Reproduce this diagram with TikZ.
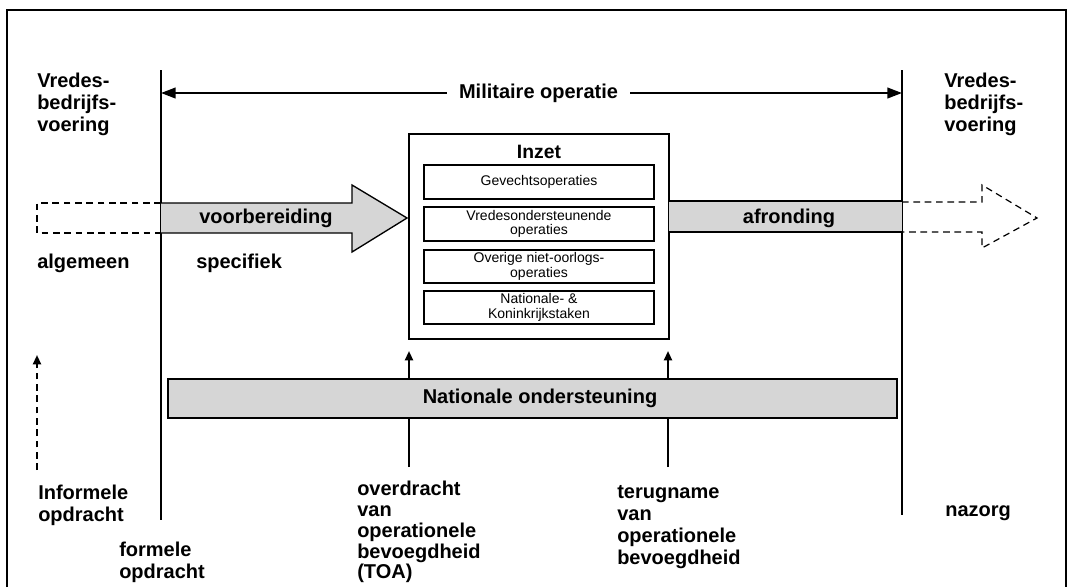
\documentclass[tikz,border=0pt]{standalone}
\usepackage{fontspec}
\setmainfont{Liberation Sans}
\usetikzlibrary{arrows.meta}
\begin{document}
\begin{tikzpicture}[x=0.75pt,y=-0.75pt,
  lab/.style={font=\bfseries\fontsize{15}{16.5}\selectfont,align=left,inner sep=0},
  small/.style={font=\fontsize{10.5}{11}\selectfont,align=center,inner sep=0},
  phase/.style={fill=black!16},
  dashedline/.style={line width=0.9pt,dash pattern=on 5pt off 3.5pt},
  bigarrow/.style={line width=1.5pt,-{Triangle[length=11pt,width=8pt]}},
  uparrow/.style={line width=1.5pt,-{Triangle[length=7pt,width=6pt]}},
  opbox/.style={draw,line width=0.9pt,minimum width=230*0.75pt}
]
\useasboundingbox (0,0) rectangle (1069,587);
% frame
\draw[line width=0.8pt] (7,587) -- (7,10) -- (1066,10) -- (1066,587);

% vertical phase lines
\coordinate (lt) at (161,70);
\coordinate (lb) at (161,520);
\coordinate (rt) at (902,70);
\coordinate (rb) at (902,515);
\draw[line width=2.2pt] (lt) -- (lb);
\draw[line width=2.2pt] (rt) -- (rb);

% Militaire operatie
\node[lab,inner xsep=9pt] (mil) at (538.5,93) {Militaire operatie};
\draw[bigarrow] (mil.west) -- (mil.west -| lt);
\draw[bigarrow] (mil.east) -- (mil.east -| rt);

% side labels
\node[lab,anchor=north west] (vbl) at (37,73) {Vredes-\\bedrijfs-\\voering};
\node[lab,anchor=north west] (vbr) at (944,73) {Vredes-\\bedrijfs-\\voering};
\node[lab,anchor=base west] (alg) at (37,268) {algemeen};
\node[lab,anchor=base west] (spec) at (196,268) {specifiek};

% voorbereiding arrow
\fill[phase] (161,203) -- (352,203) -- (352,185) -- (407,218) -- (352,252) -- (352,233) -- (161,233) -- cycle;
\draw[line width=1pt,line join=miter] (161,203) -- (352,203) -- (352,185) -- (407,218) -- (352,252) -- (352,233) -- (161,233);
\draw[dashedline] (161,203) -- (37,203) -- (37,233) -- (161,233);
\node[lab] (voor) at (266,218) {voorbereiding};

% Inzet box
\node[draw,line width=1.5pt,minimum width=260*0.75pt,minimum height=205*0.75pt,inner sep=0] (inzet) at (539,236.5) {};
\node[lab,font=\bfseries\fontsize{14.5}{15}\selectfont] (inzett) at (539,152) {Inzet};
\node[opbox,minimum height=34*0.75pt] (b1) at (539,182) {};
\node[small] at (b1) {Gevechtsoperaties};
\node[opbox,minimum height=34*0.75pt] (b2) at (539,224) {};
\node[small] at (b2) {Vredesondersteunende\\operaties};
\node[opbox,minimum height=33*0.75pt] (b3) at (539,266.5) {};
\node[small] at (b3) {Overige niet-oorlogs-\\operaties};
\node[opbox,minimum height=33*0.75pt] (b4) at (539,307.5) {};
\node[small] at (b4) {Nationale- \&\\Koninkrijkstaken};

% afronding band
\fill[phase] (669,201) rectangle (902,232);
\draw[line width=1pt] (669,201) -- (902,201);
\draw[line width=1pt] (669,232) -- (902,232);
\draw[dashedline] (902,202) -- (982,202) -- (982,185) -- (1037,218) -- (982,248) -- (982,232) -- (902,232);
\node[lab] (afr) at (789,218) {afronding};

% up arrows
\coordinate (toa) at (409,467);
\coordinate (ter) at (668,467);
\draw[uparrow] (toa) -- (409,351);
\draw[uparrow] (ter) -- (668,351);
\coordinate (inf) at (37,470);
\draw[uparrow,dash pattern=on 5pt off 3.5pt] (inf) -- (37,355);

% Nationale ondersteuning
\node[draw,phase,line width=2pt,minimum width=729*0.75pt,minimum height=39*0.75pt,inner sep=0] (nat) at (532.5,398.5) {};
\node[lab] (natt) at (540,398.5) {Nationale ondersteuning};

% bottom labels
\node[lab,anchor=north west] (infl) at (38,485) {Informele\\opdracht};
\node[lab,anchor=north west] (form) at (119,542) {formele\\opdracht};
\node[lab,anchor=north west,font=\bfseries\fontsize{15}{15.6}\selectfont] (over) at (357,481) {overdracht\\van\\operationele\\bevoegdheid\\(TOA)};
\node[lab,anchor=north west] (terug) at (617,485) {terugname\\van\\operationele\\bevoegdheid};
\node[lab,anchor=base west] (naz) at (945,516) {nazorg};
\end{tikzpicture}
\end{document}
